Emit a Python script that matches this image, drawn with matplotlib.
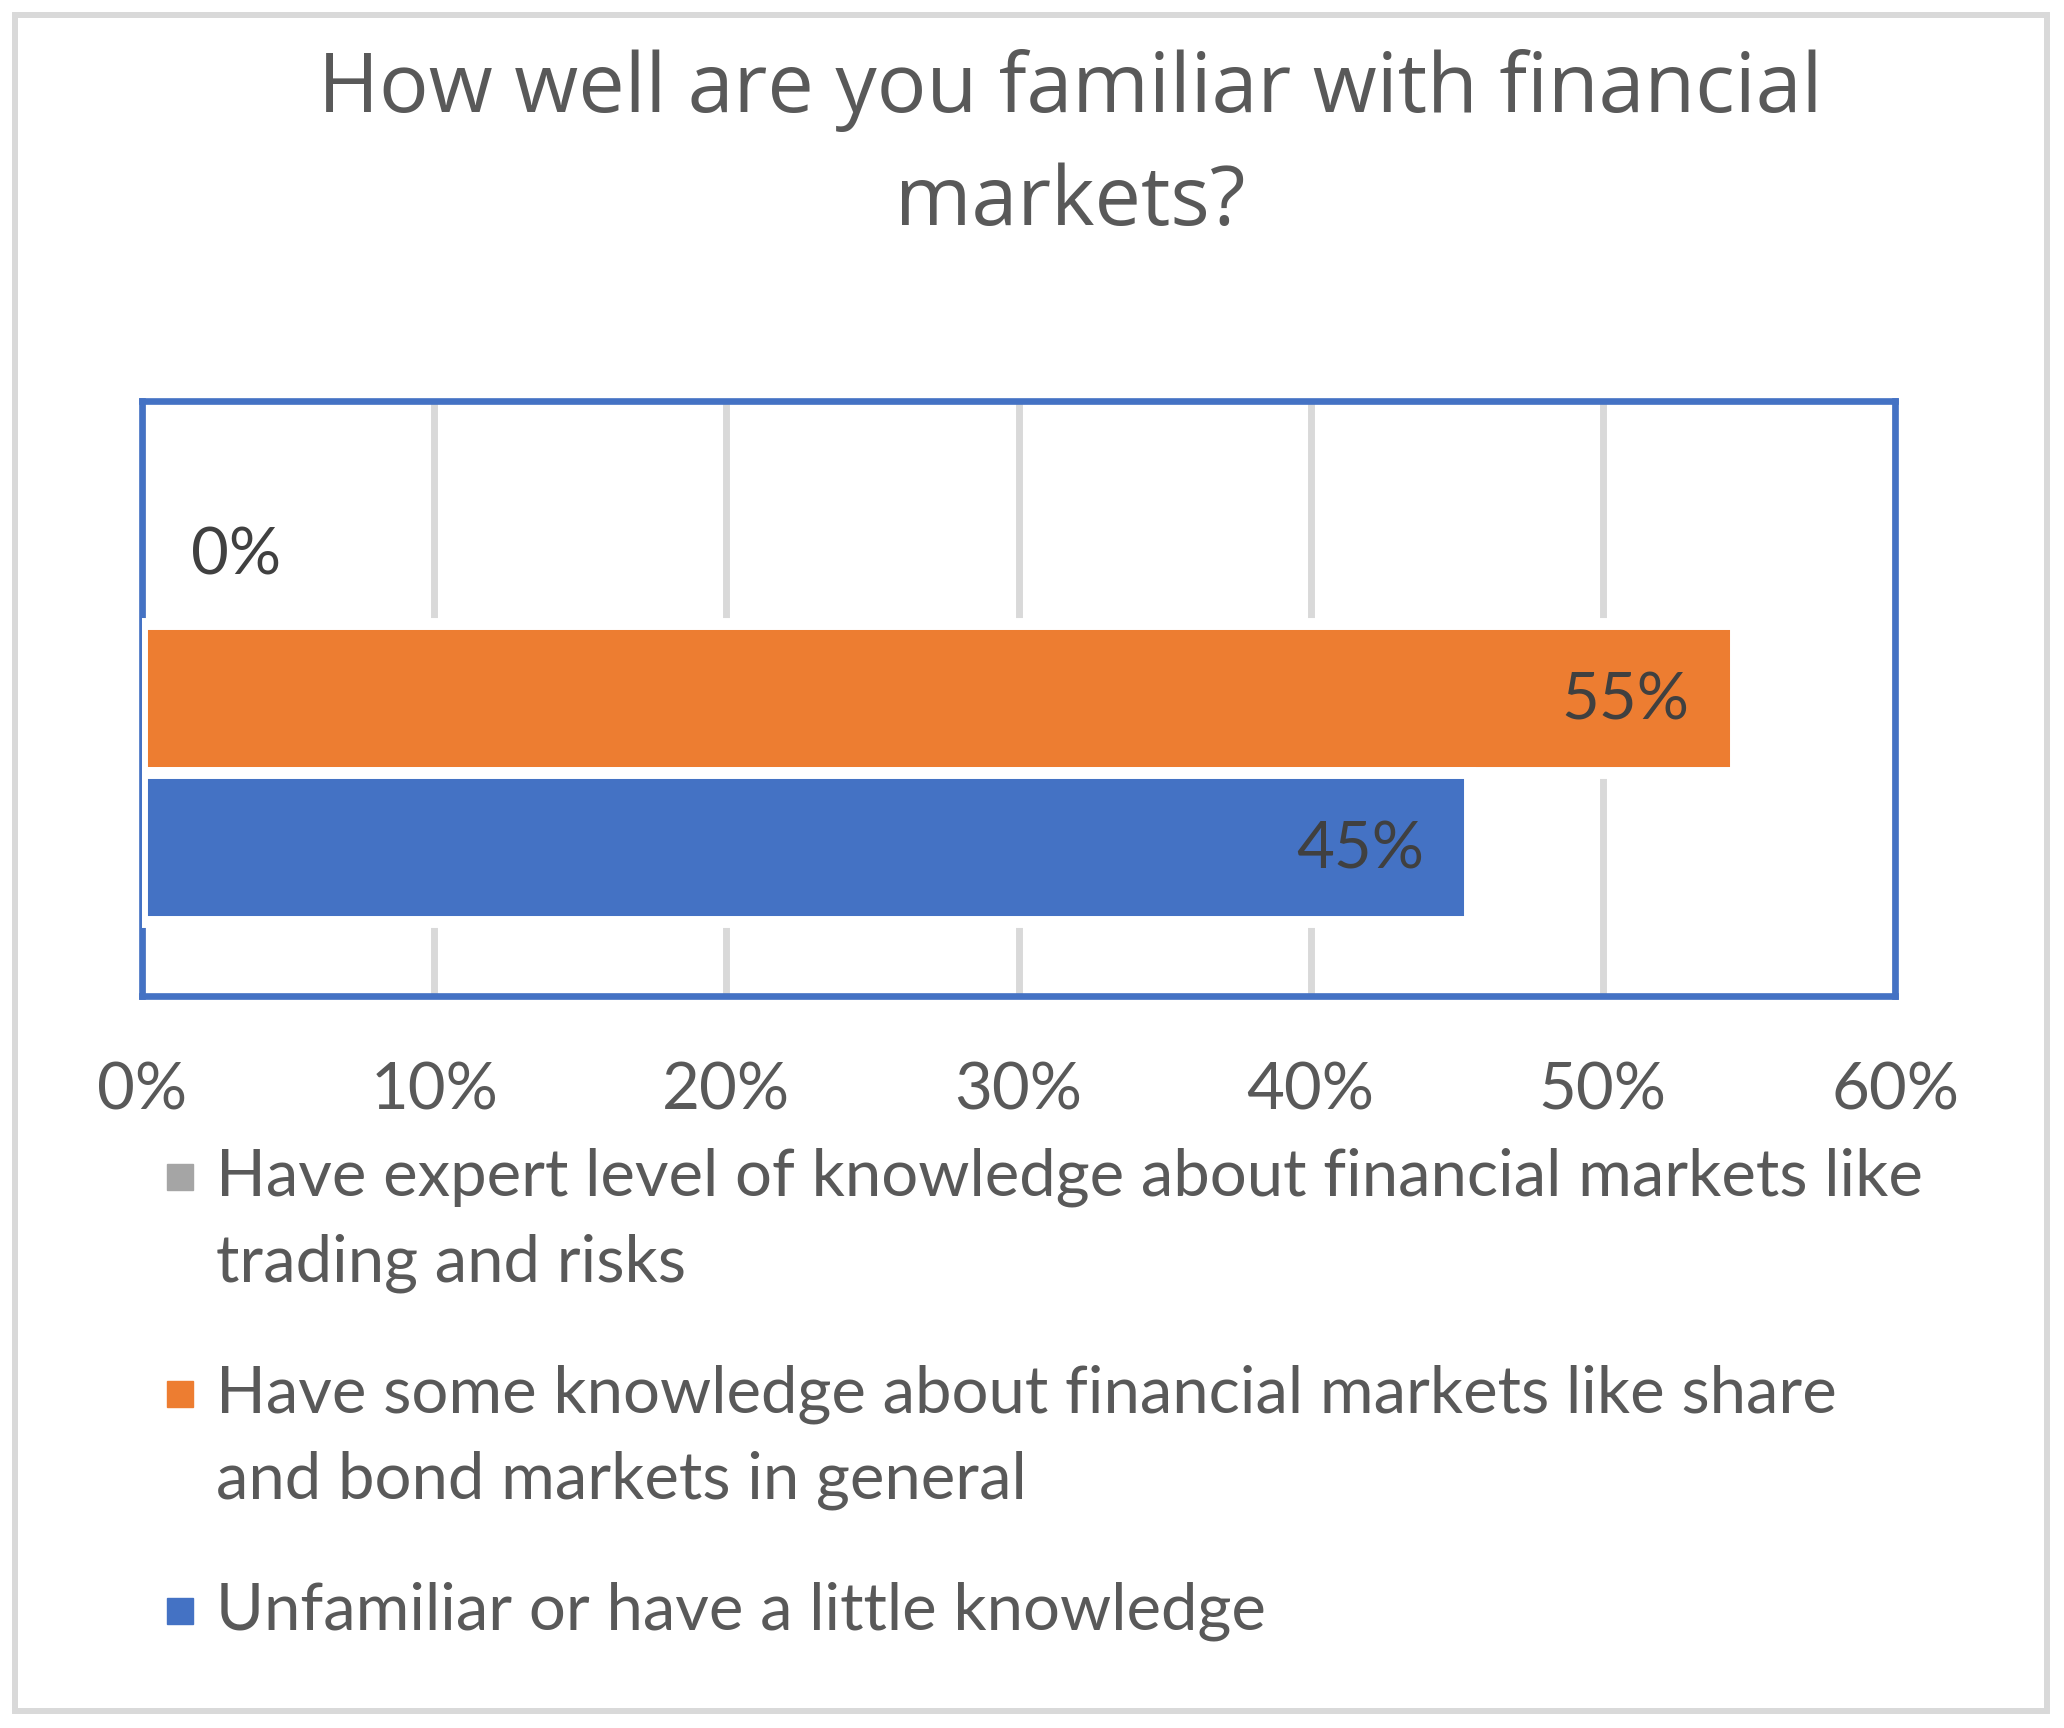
import numpy as np
import matplotlib.pyplot as plt
from matplotlib.patches import Rectangle

# series, top to bottom as in the legend
series = ["Have expert level of knowledge about financial markets like\ntrading and risks",
          "Have some knowledge about financial markets like share\nand bond markets in general",
          "Unfamiliar or have a little knowledge"]
values = [0.0, 0.5455, 0.4545]
colors = ["#A5A5A5", "#ED7D31", "#4472C4"]
xticks = [0, 0.1, 0.2, 0.3, 0.4, 0.5, 0.6]
title = "How well are you familiar with financial\nmarkets?"

W, H = 2064, 1728
fig = plt.figure(figsize=(W / 100, H / 100), dpi=100)

# light grey chart border
fig.patches.append(Rectangle((15 / W, 1 - 1711 / H), 2032 / W, 1696 / H,
                             transform=fig.transFigure, fill=False,
                             edgecolor="#D9D9D9", linewidth=4.3))

fig.text(1070 / W, 1 - 147 / H, title, ha="center", va="center",
         fontsize=59.5, color="#595959", family="Open Sans", linespacing=1.5)

ax = fig.add_axes([142 / W, 1 - 996 / H, 1753 / W, 595 / H])
n = len(values)
ypos = 0.25 * (n - np.arange(n))
lw = [8.6 if v > 0 else 0 for v in values]
ax.barh(ypos, values, height=0.25, color=colors, edgecolor="white",
        linewidth=lw, zorder=3)

for y, v in zip(ypos, values):
    lab = f"{v:.0%}"
    if v > 0:
        ax.annotate(lab, (v, y), xytext=(-46, -3), textcoords="offset pixels",
                    ha="right", va="center", fontsize=47, color="#404040",
                    family="Lato", zorder=4)
    else:
        ax.annotate(lab, (v, y), xytext=(49, -6), textcoords="offset pixels",
                    ha="left", va="center", fontsize=47, color="#404040",
                    family="Lato", zorder=4)

ax.set_xlim(0, 0.6)
ax.set_ylim(0, 1)
ax.set_xticks(xticks)
ax.set_xticklabels([f"{t:.0%}" for t in xticks], family="Lato", fontsize=47,
                   color="#595959")
ax.tick_params(axis="x", length=0, pad=47)
ax.set_yticks([])
ax.grid(axis="x", color="#D9D9D9", linewidth=5)
ax.set_axisbelow(True)
for s in ax.spines.values():
    s.set_color("#4472C4")
    s.set_linewidth(4.8)

# legend, first line of each entry aligned with its square
first_line = [1177, 1394, 1611]
for lab, c, yc in zip(series, colors, first_line):
    fig.patches.append(Rectangle((167 / W, 1 - (yc + 13) / H), 26 / W, 26 / H,
                                 transform=fig.transFigure, color=c))
    for k, line in enumerate(lab.split("\n")):
        fig.text(216 / W, 1 - (yc + 86 * k) / H, line, ha="left", va="center",
                 fontsize=47, color="#595959", family="Lato")

fig.savefig("out.png", dpi=100)
